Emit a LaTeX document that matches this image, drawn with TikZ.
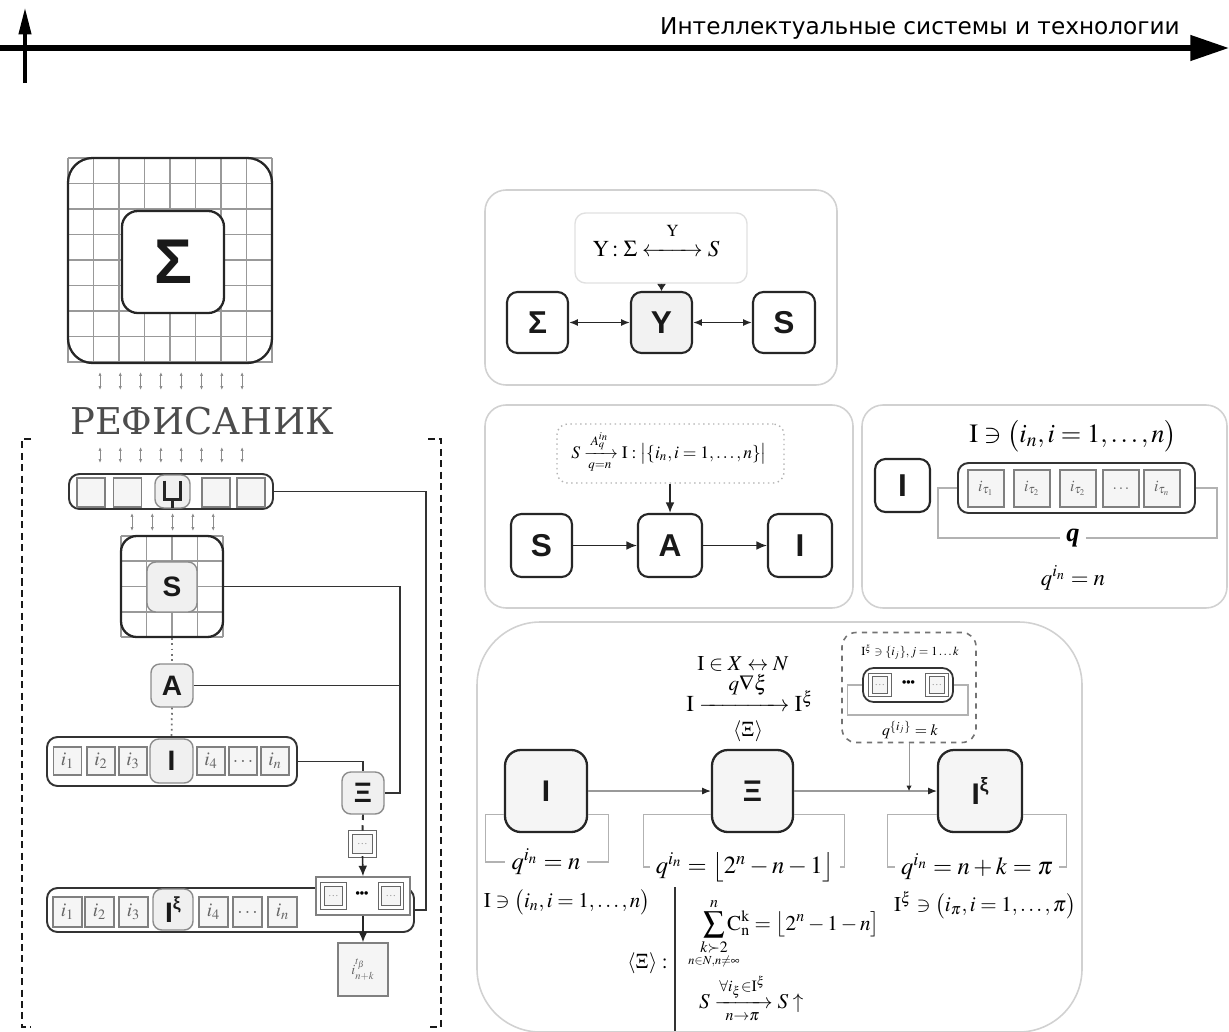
\documentclass[tikz,border=0pt]{standalone}
\usepackage{mathtools}
\usepackage{mathptmx}
\usepackage{fontspec}
\setmainfont{Liberation Serif}
\newfontfamily\boxfont{Liberation Sans}
\newfontfamily\headfont{DejaVu Sans}
\newfontfamily\wordfont{DejaVu Serif}
\usetikzlibrary{arrows.meta, positioning, calc}

\begin{document}
\begin{tikzpicture}[x=0.02cm, y=-0.02cm,
    sz/.style 2 args={minimum width=#1*0.02cm, minimum height=#2*0.02cm, inner sep=0pt},
    panel/.style={draw=black!18, line width=0.9pt, rounded corners=12pt},
    bigbox/.style={draw=black!85, line width=1.2pt, rounded corners=6pt, fill=white, text=black!90, font=\boxfont\bfseries\fontsize{18}{20}\selectfont},
    dbig/.style={bigbox, fill=black!4, rounded corners=9pt, line width=1.3pt, font=\boxfont\bfseries\fontsize{17}{20}\selectfont},
    softbox/.style={draw=black!45, line width=0.8pt, rounded corners=5pt, fill=black!6, text=black!90, font=\boxfont\bfseries\fontsize{16}{19}\selectfont},
    rowbox/.style={draw=black!80, line width=1.1pt, rounded corners=6pt},
    cell/.style={draw=black!50, line width=0.7pt, fill=black!4, text=black!60, font=\fontsize{11}{12}\selectfont},
    dcell/.style={draw=black!60, double=white, double distance=1.2pt, line width=0.6pt, fill=black!4, text=black!40, font=\fontsize{6}{6}\selectfont},
    conn/.style={draw=black!80, line width=1.1pt},
    gline/.style={draw=black!30, line width=0.7pt},
    updown/.style={draw=black!45, line width=0.5pt, {Latex[length=2.2pt,width=1.8pt]}-{Latex[length=2.2pt,width=1.8pt]}},
    arr/.style={draw=black!85, line width=0.9pt, -{Latex[length=6pt,width=5pt]}},
    dbl/.style={draw=black!85, line width=0.9pt, {Latex[length=5pt,width=4pt]}-{Latex[length=5pt,width=4pt]}},
    tarr/.style={draw=black!40, line width=0.6pt, -{Latex[length=5pt,width=4pt,color=black!85]}},
    bracket/.style={draw=black!90, line width=1.3pt, dash pattern=on 4pt off 2.5pt},
  ]
  \useasboundingbox (0,0) rectangle (1229,1031);

  % шапка
  \draw[line width=3.2pt, -{Triangle[length=22pt,width=14pt]}] (0,48) -- (1229,48);
  \draw[line width=1.8pt, -{Triangle[length=15pt,width=7pt]}] (25,83) -- (25,8);
  \node[anchor=east, inner sep=0pt, font=\headfont\fontsize{13.2}{15}\selectfont] (head) at (1180,28) {Интеллектуальные системы и технологии};

  % левая колонка: сетка Σ
  \foreach \k in {0,...,8}{
    \draw[black!40, line width=1pt] (68+\k*25.5,158) -- (68+\k*25.5,363);
    \draw[black!40, line width=1pt] (68,158+\k*25.5) -- (272,158+\k*25.5);
  }
  \node[draw=black!85, line width=1.3pt, rounded corners=14pt, sz={204}{205}] (siggrid) at (170,260.5) {};
  \node[draw=black!85, line width=1.3pt, fill=white, rounded corners=9pt, sz={102}{102}, text=black!90, font=\boxfont\bfseries\fontsize{36}{40}\selectfont] (sig) at (173,262) {Σ};
  \foreach \k in {0,...,7} \draw[updown] (100+\k*20.3,372) -- (100+\k*20.3,390);
  \node[font=\wordfont\fontsize{21}{24}\selectfont, text=black!70] (word) at (202,421) {РЕФИСАНИК};
  \foreach \k in {0,...,7} \draw[updown] (100+\k*20.3,447) -- (100+\k*20.3,463);

  % ряд Ц
  \node[rowbox, sz={204}{35}] (tsrow) at (171,491.5) {};
  \foreach \x [count=\c] in {91,127.5,216,251} \node[cell, sz={28}{29}] (ts\c) at (\x,492.5) {};
  \node[softbox, sz={35}{33}] (tsc) at (172.5,491.5) {};
  \draw[black!85, line width=1.8pt] ($(tsc)+(-8,-11)$) -- ($(tsc)+(-8,8)$) -- ($(tsc)+(8,8)$) -- ($(tsc)+(8,-11)$)
    ($(tsc)+(0,8)$) -- ($(tsc)+(0,16)$);
  \foreach \k in {0,...,4} \draw[updown] (132+\k*20.3,513) -- (132+\k*20.3,531);

  % сетка S
  \foreach \k in {0,...,4}{
    \draw[black!40, line width=1pt] (121+\k*25.5,536) -- (121+\k*25.5,637);
    \draw[black!40, line width=1pt] (121,536+\k*25.25) -- (223,536+\k*25.25);
  }
  \node[draw=black!85, line width=1.3pt, rounded corners=9pt, sz={102}{101}] (sgrid) at (172,586.5) {};
  \node[softbox, sz={50}{50}] (sl) at (172,587) {S};
  \node[softbox, sz={42}{43}] (al) at (172,685.5) {A};

  % ряд I
  \node[rowbox, sz={250}{49}] (irow) at (172,761.5) {};
  \foreach \x/\lab [count=\c] in {67.5/i_1, 101/i_2, 133/i_3, 211/i_4, 243/\ldots, 275/i_n}
    \node[cell, sz={28}{28}] (ic\c) at (\x,761) {$\lab$};
  \node[softbox, sz={43}{44}] (il) at (171.5,761) {I};

  \node[softbox, sz={42}{42}] (xl) at (363,793) {Ξ};
  \node[dcell, sz={24}{23}] (dl) at (362.5,844) {\dots};

  % ряд I^ξ
  \node[rowbox, sz={367}{44}] (xrow) at (230.5,910) {};
  \foreach \x/\lab [count=\c] in {67.5/i_1, 99.5/i_2, 133.5/i_3, 213.5/i_4, 247.5/\ldots, 282.5/i_n}
    \node[cell, sz={29}{30}] (xc\c) at (\x,912) {$\lab$};
  \node[softbox, sz={40}{41}] (xil) at (173,909.5) {I\raisebox{.45em}{\fontsize{10}{10}\selectfont ξ}};
  \node[draw=black!50, line width=0.8pt, fill=white, sz={94}{38}] (wl) at (363,896) {};
  \node[dcell, sz={22}{23}] (wl1) at (333.5,896) {\dots};
  \node[dcell, sz={22}{23}] (wl2) at (391,896) {\dots};
  \node[font=\boxfont\bfseries\fontsize{7}{8}\selectfont] (wdots) at (362,895) {•••};
  \node[cell, sz={50}{53}, font=\fontsize{8}{9}\selectfont] (bl) at (363,969.5) {$i^{t_\beta}_{n+k}$};

  % связи
  \coordinate (busa) at (400,586);
  \coordinate (busb) at (426,493);
  \draw[conn] (sgrid.east) -- (sgrid.east -| busa) |- (xl.east);
  \draw[conn] (al.east) -- (al.east -| busa);
  \draw[conn] (tsrow.east) -| (xrow.east -| busb) -- (xrow.east);
  \draw[conn] (irow.east) -| (xl.north);
  \draw[conn, dashed] (xl.south) -- (dl.north);
  \draw[arr] (dl.south) -- (wl.north);
  \draw[arr] (wl.south) -- (bl.north);
  \draw[black!55, dotted, line width=1pt] (sgrid.south) -- (al.north);
  \draw[black!55, dotted, line width=1pt] (al.south) -- (il.north);

  % скобки
  \draw[bracket] (31,439) -- (22,439) -- (22,1027) -- (31,1027);
  \draw[bracket] (428,439) -- (441,439) -- (441,1027) -- (428,1027);

  % панель 1
  \node[panel, sz={352}{195}] (pa) at (661,287.5) {};
  \node[draw=black!12, line width=0.8pt, rounded corners=6pt, sz={172}{70}] (yform) at (661,248) {};
  \node[font=\fontsize{13}{15}\selectfont] (yeq) at (656,240) {$\mathrm{Y}:\Sigma\overset{\mathrm{Y}}{\xleftrightarrow{\hspace{0.95cm}}}S$};
  \node[bigbox, sz={61}{61}] (psig) at (537.5,322.5) {Σ};
  \node[bigbox, sz={61}{61}, fill=black!5] (pups) at (661.5,322.5) {Y};
  \node[bigbox, sz={62}{61}] (ps) at (784,322.5) {S};
  \draw[dbl] (psig) -- (pups);
  \draw[dbl] (pups) -- (ps);
  \draw[draw=black!85, -{Latex[length=4pt,width=5pt]}] (yform.south -| pups) -- (pups.north);

  % панель 2
  \node[panel, sz={368}{203}] (pb) at (669,506.5) {};
  \node[draw=black!30, dotted, line width=0.8pt, rounded corners=6pt, sz={227}{59}] (aform) at (670.5,453.5) {};
  \node[font=\fontsize{10}{12}\selectfont] (aeq) at (669,452) {$S\xrightarrow[q=n]{\;A_q^{i_n}\;}\mathrm{I}:\bigl|\{i_n, i=1,\ldots,n\}\bigr|$};
  \node[bigbox, sz={61}{63}] (pbs) at (541.5,545.5) {S};
  \node[bigbox, sz={64}{63}] (pba) at (670,545.5) {A};
  \node[bigbox, sz={64}{63}] (pbi) at (800,545.5) {I};
  \draw[arr] (pbs) -- (pba);
  \draw[arr] (pba) -- (pbi);
  \draw[arr] (aform.south -| pba) -- (pba.north);

  % панель 3
  \node[panel, sz={365}{203}] (pc) at (1044.5,506.5) {};
  \node[bigbox, sz={55}{53}] (pci) at (902.5,485.5) {I};
  \node[font=\fontsize{15}{18}\selectfont] (ceq) at (1073,436) {$\mathrm{I}\ni\bigl(i_n, i=1,\ldots,n\bigr)$};
  \node[rowbox, sz={237}{50}] (taurow) at (1076.5,488) {};
  \foreach \x/\lab [count=\c] in {986/i_{\tau_1}, 1032/i_{\tau_2}, 1078/i_{\tau_2}, 1121/\ldots, 1162/i_{\tau_n}}
    \node[cell, sz={36}{37}, font=\fontsize{9}{10}\selectfont] (tc\c) at (\x,488.5) {$\lab$};
  \node[font=\fontsize{15}{18}\selectfont\bfseries\itshape] (cq) at (1073,538) {q};
  \node[font=\fontsize{13}{16}\selectfont] (cqe) at (1073,578) {$q^{i_n}=n$};
  \draw[gline] (cq.west) -| ($(taurow.west)+(-19,0)$) -- (taurow.west);
  \draw[gline] (cq.east) -| ($(taurow.east)+(21,0)$) -- (taurow.east);

  % панель 4
  \node[panel, sz={605}{410}, rounded corners=36pt] (pd) at (779.5,827) {};
  \node[font=\fontsize{12}{14}\selectfont] (dtop) at (743,664) {$\mathrm{I}\in X\leftrightarrow N$};
  \node[font=\fontsize{13}{15}\selectfont] (dmid) at (750,701) {$\mathrm{I}\xrightarrow{\hspace{1.55cm}}\mathrm{I}^{\xi}$};
  \node[font=\fontsize{12}{14}\selectfont] (dlab) at (748,685) {$q\nabla\xi$};
  \node[font=\fontsize{12}{14}\selectfont] (dbot) at (748,731) {$\langle\Xi\rangle$};

  \node[draw=black!55, dashed, line width=0.9pt, rounded corners=8pt, sz={134}{110}] (dbox) at (909,687.5) {};
  \node[font=\fontsize{7}{8}\selectfont] (dtext) at (910,652) {$\mathrm{I}^{\xi}\ni\{i_j\}, j=1\ldots k$};
  \node[rowbox, sz={90}{34}, line width=1pt] (drow) at (908,685) {};
  \node[dcell, sz={19}{20}] (dc1) at (880,685) {\dots};
  \node[dcell, sz={19}{20}] (dc2) at (937,685) {\dots};
  \node[font=\boxfont\bfseries\fontsize{7}{8}\selectfont] (ddots) at (908.5,684) {•••};
  \node[font=\fontsize{9}{10}\selectfont] (dq) at (910,730) {$q^{\{i_j\}}=k$};
  \draw[gline] (drow.west) -- ++(-15,0) -- ++(0,30) -| ($(drow.east)+(14,0)$) -- (drow.east);

  \node[dbig, sz={82}{82}] (di) at (546,791) {I};
  \node[dbig, sz={81}{82}] (dxi) at (752.5,791) {Ξ};
  \node[dbig, sz={84}{82}] (dixi) at (980,791) {I\raisebox{.45em}{\fontsize{11}{11}\selectfont ξ}};
  \draw[tarr] (di) -- (dxi);
  \draw[tarr] (dxi) -- (dixi);
  \draw[draw=black!40, line width=0.5pt, -{Latex[length=3pt,width=3pt,color=black!85]}] (dbox.south) -- (dbox.south |- dxi.east);

  \node[font=\fontsize{14}{16}\selectfont] (dq1) at (546,862) {$q^{i_n}=n$};
  \node[font=\fontsize{14}{16}\selectfont] (dq2) at (745,867) {$q^{i_n}=\bigl\lfloor 2^n-n-1\bigr\rfloor$};
  \node[font=\fontsize{14}{16}\selectfont] (dq3) at (977,867) {$q^{i_n}=n+k=\pi$};
  \draw[gline] ($(di.south west)+(0,-19)$) -- ++(-18,0) |- (dq1.west);
  \draw[gline] ($(di.south east)+(0,-19)$) -- ++(20,0) |- (dq1.east);
  \draw[gline] ($(dxi.south west)+(0,-19)$) -- ++(-67,0) |- (dq2.west);
  \draw[gline] ($(dxi.south east)+(0,-19)$) -- ++(50,0) |- (dq2.east);
  \draw[gline] ($(dixi.south west)+(0,-19)$) -- ++(-49,0) |- (dq3.west);
  \draw[gline] ($(dixi.south east)+(0,-19)$) -- ++(43,0) |- (dq3.east);

  \node[font=\fontsize{12}{14}\selectfont] (dset1) at (567,902) {$\mathrm{I}\ni\bigl(i_n, i=1,\ldots,n\bigr)$};
  \node[font=\fontsize{12}{14}\selectfont] (dset2) at (985,905) {$\mathrm{I}^{\xi}\ni\bigl(i_{\pi}, i=1,\ldots,\pi\bigr)$};

  \draw[black!80, line width=0.8pt] (675,887) -- (675,1031);
  \node[anchor=east, font=\fontsize{12}{14}\selectfont] (dxk) at (674,963) {$\langle\Xi\rangle:$};
  \node[anchor=base west, font=\fontsize{12}{14}\selectfont] (dsum) at (697,930)
    {$\displaystyle\sum_{\mathclap{\substack{k\succ 2\\ \scriptscriptstyle n\in N,n\neq\infty}}}^{n}\mathrm{C}_{\mathrm{n}}^{\mathrm{k}}=\bigl\lfloor 2^{n}-1-n\bigr]$};
  \node[anchor=base west, font=\fontsize{12}{14}\selectfont] (dimp) at (693,1008)
    {$S\xrightarrow[n\to\pi]{\forall i_{\xi}\in\mathrm{I}^{\xi}}S\uparrow$};
\end{tikzpicture}
\end{document}
